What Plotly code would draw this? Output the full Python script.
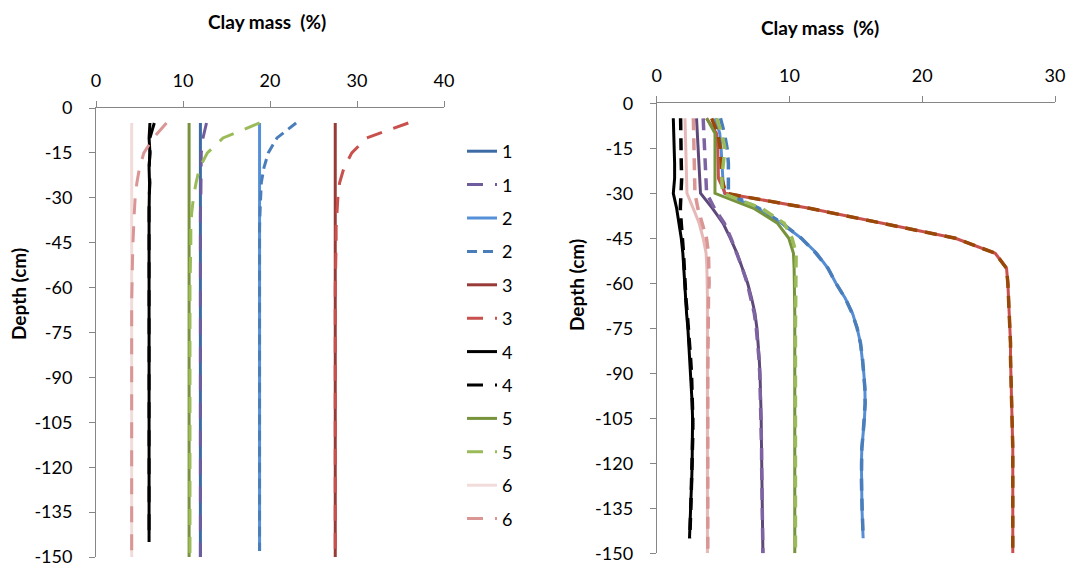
import plotly.graph_objects as go

# ---------------- data ----------------
DEPTH = [-5, -10, -15, -20, -25, -30, -35, -40, -45, -50, -55, -60, -65, -70, -75,
         -80, -85, -90, -95, -100, -105, -110, -115, -120, -125, -130, -135, -140, -145, -150]
DEPTH_145 = DEPTH[:-1]
DEPTH_148 = DEPTH[:-1] + [-148]

# Left chart
L1_solid = [12.0, 12.0, 12.0, 12.0, 12.0, 12.0, 12.0, 12.0, 12.0, 12.0, 12.0, 12.0, 12.0, 12.0, 12.0,
            12.0, 12.0, 12.0, 12.0, 12.0, 12.0, 12.0, 12.0, 12.0, 12.0, 12.0, 12.0, 12.0, 12.0, 12.0]
L1_dash = [12.7, 12.3, 12.1, 12.1, 12.05, 12.05, 12.0, 12.0, 12.0, 12.0, 12.0, 12.0, 12.0, 12.0, 12.0,
           12.0, 12.0, 12.0, 12.0, 12.0, 12.0, 12.0, 12.0, 12.0, 12.0, 12.0, 12.0, 12.0, 12.0, 12.0]
L2_solid = [18.8, 18.8, 18.8, 18.8, 18.8, 18.8, 18.8, 18.8, 18.8, 18.8, 18.8, 18.8, 18.8, 18.8, 18.8,
            18.8, 18.8, 18.8, 18.8, 18.8, 18.8, 18.8, 18.8, 18.8, 18.8, 18.8, 18.8, 18.8, 18.8, 18.8]
L2_dash = [23.0, 20.8, 19.8, 19.3, 19.0, 18.9, 18.85, 18.8, 18.8, 18.8, 18.8, 18.8, 18.8, 18.8, 18.8,
           18.8, 18.8, 18.8, 18.8, 18.8, 18.8, 18.8, 18.8, 18.8, 18.8, 18.8, 18.8, 18.8, 18.8, 18.8]
L3_solid = [27.5, 27.5, 27.5, 27.5, 27.5, 27.5, 27.5, 27.5, 27.5, 27.5, 27.5, 27.5, 27.5, 27.5, 27.5,
            27.5, 27.5, 27.5, 27.5, 27.5, 27.5, 27.5, 27.5, 27.5, 27.5, 27.5, 27.5, 27.5, 27.5, 27.5]
L3_dash = [35.9, 31.1, 29.4, 28.5, 28.0, 27.8, 27.7, 27.6, 27.6, 27.55, 27.5, 27.5, 27.5, 27.5, 27.5,
           27.5, 27.5, 27.5, 27.5, 27.5, 27.5, 27.5, 27.5, 27.5, 27.5, 27.5, 27.5, 27.5, 27.5, 27.5]
L4_solid = [6.2, 6.1, 6.2, 6.1, 6.15, 6.1, 6.1, 6.1, 6.1, 6.1, 6.1, 6.1, 6.1, 6.1, 6.1,
            6.1, 6.1, 6.1, 6.1, 6.1, 6.1, 6.1, 6.1, 6.1, 6.1, 6.1, 6.1, 6.1, 6.1]
L4_dash = [6.7, 6.2, 6.2, 6.1, 6.2, 6.1, 6.1, 6.1, 6.1, 6.1, 6.1, 6.1, 6.1, 6.1, 6.1,
           6.1, 6.1, 6.1, 6.1, 6.1, 6.1, 6.1, 6.1, 6.1, 6.1, 6.1, 6.1, 6.1, 6.1]
L5_solid = [10.7, 10.7, 10.7, 10.7, 10.7, 10.7, 10.7, 10.7, 10.7, 10.7, 10.7, 10.7, 10.7, 10.7, 10.7,
            10.7, 10.7, 10.7, 10.7, 10.7, 10.7, 10.7, 10.7, 10.7, 10.7, 10.7, 10.7, 10.7, 10.7, 10.7]
L5_dash = [18.8, 14.6, 12.8, 11.9, 11.5, 11.2, 11.0, 10.9, 10.9, 10.85, 10.8, 10.8, 10.8, 10.8, 10.8,
           10.8, 10.8, 10.8, 10.8, 10.8, 10.8, 10.8, 10.8, 10.8, 10.8, 10.8, 10.8, 10.8, 10.8, 10.8]
L6_solid = [4.1, 4.1, 4.1, 4.1, 4.1, 4.1, 4.1, 4.1, 4.1, 4.1, 4.1, 4.1, 4.1, 4.1, 4.1,
            4.1, 4.1, 4.1, 4.1, 4.1, 4.1, 4.1, 4.1, 4.1, 4.1, 4.1, 4.1, 4.1, 4.1, 4.1]
L6_dash = [8.1, 6.6, 5.5, 5.0, 4.7, 4.5, 4.4, 4.3, 4.25, 4.2, 4.15, 4.1, 4.1, 4.1, 4.1,
           4.1, 4.1, 4.1, 4.1, 4.1, 4.1, 4.1, 4.1, 4.1, 4.1, 4.1, 4.1, 4.1, 4.1, 4.1]

# Right chart
R1_solid = [3.0, 3.05, 3.1, 3.15, 3.2, 3.3, 4.2, 5.0, 5.55, 6.05, 6.45, 6.85, 7.15, 7.4, 7.55,
            7.65, 7.72, 7.78, 7.82, 7.85, 7.87, 7.88, 7.9, 7.9, 7.92, 7.93, 7.95, 7.97, 7.98, 8.0]
R1_dash = [3.5, 3.55, 3.6, 3.65, 3.7, 3.76, 4.35, 5.1, 5.6, 6.05, 6.45, 6.82, 7.1, 7.35, 7.5,
           7.62, 7.7, 7.76, 7.8, 7.84, 7.86, 7.88, 7.9, 7.9, 7.92, 7.94, 7.96, 7.97, 7.98, 8.0]
R2_solid = [4.4, 4.75, 4.85, 4.9, 4.98, 5.1, 7.6, 9.4, 10.9, 12.05, 12.9, 13.5, 14.2, 14.75, 15.1,
            15.35, 15.5, 15.6, 15.68, 15.7, 15.65, 15.55, 15.45, 15.42, 15.42, 15.44, 15.46, 15.5, 15.55]
R2_dash = [4.8, 5.1, 5.3, 5.4, 5.4, 5.4, 7.7, 9.45, 10.9, 12.0, 12.9, 13.5, 14.2, 14.72, 15.1,
           15.35, 15.5, 15.62, 15.68, 15.7, 15.65, 15.55, 15.45, 15.42, 15.42, 15.44, 15.46, 15.5, 15.55]
R3_solid = [3.76, 4.5, 4.6, 4.62, 4.65, 5.16, 11.5, 17.0, 22.5, 25.5, 26.35, 26.45, 26.5, 26.6, 26.62,
            26.65, 26.65, 26.68, 26.7, 26.75, 26.8, 26.8, 26.82, 26.82, 26.82, 26.82, 26.82, 26.82, 26.82, 26.82]
R3_dash = [4.14, 4.6, 4.8, 4.85, 4.9, 5.2, 11.5, 17.0, 22.5, 25.5, 26.35, 26.45, 26.5, 26.6, 26.62,
           26.65, 26.65, 26.68, 26.7, 26.75, 26.8, 26.8, 26.82, 26.82, 26.82, 26.82, 26.82, 26.82, 26.82, 26.82]
R4_solid = [1.25, 1.3, 1.35, 1.35, 1.35, 1.25, 1.5, 1.7, 1.85, 1.97, 2.03, 2.08, 2.15, 2.25, 2.35,
            2.42, 2.5, 2.56, 2.62, 2.67, 2.7, 2.7, 2.69, 2.67, 2.64, 2.6, 2.56, 2.52, 2.47]
R4_dash = [1.8, 1.8, 1.82, 1.85, 1.88, 1.85, 1.78, 1.85, 1.95, 2.02, 2.08, 2.13, 2.2, 2.3, 2.4,
           2.47, 2.55, 2.62, 2.67, 2.7, 2.72, 2.72, 2.7, 2.68, 2.65, 2.61, 2.57, 2.53, 2.49]
R5_solid = [3.76, 4.39, 4.39, 4.39, 4.39, 4.39, 7.3, 9.1, 9.95, 10.3, 10.35, 10.38, 10.4, 10.4, 10.4,
            10.4, 10.4, 10.4, 10.4, 10.4, 10.4, 10.4, 10.4, 10.4, 10.4, 10.4, 10.4, 10.4, 10.4, 10.4]
R5_dash = [4.52, 4.9, 5.14, 5.0, 4.9, 4.96, 7.9, 9.6, 10.2, 10.5, 10.48, 10.45, 10.45, 10.45, 10.45,
           10.45, 10.45, 10.45, 10.45, 10.45, 10.45, 10.45, 10.45, 10.45, 10.45, 10.45, 10.45, 10.45, 10.45, 10.45]
R6_solid = [2.13, 2.15, 2.18, 2.2, 2.25, 2.28, 2.75, 3.2, 3.5, 3.72, 3.78, 3.82, 3.82, 3.82, 3.82,
            3.82, 3.82, 3.82, 3.82, 3.82, 3.82, 3.82, 3.82, 3.82, 3.82, 3.82, 3.82, 3.82, 3.82, 3.82]
R6_dash = [2.76, 2.78, 2.8, 2.82, 2.85, 2.88, 3.1, 3.45, 3.75, 3.9, 3.95, 3.95, 3.9, 3.88, 3.85,
           3.85, 3.85, 3.85, 3.85, 3.85, 3.85, 3.85, 3.85, 3.85, 3.85, 3.85, 3.85, 3.85, 3.85, 3.85]

X_TICKS_L = [0, 10, 20, 30, 40]
X_TICKS_R = [0, 10, 20, 30]
Y_TICKS = [0, -15, -30, -45, -60, -75, -90, -105, -120, -135, -150]
Y_TICK_LABELS = ["0", "-15", "-30", "-45", "-60", "-75", "-90", "-105", "-120", "-135", "-150"]
X_TITLE = "Clay mass&nbsp;&nbsp;(%)"
Y_TITLE = "Depth (cm)"

LONG = "16px,12px"
SHORT = "10px,6px"

left_series = [
    ("1", L1_solid, DEPTH, "#3D6BA6", "solid"),
    ("1", L1_dash, DEPTH, "#6F5C9E", LONG),
    ("2", L2_solid, DEPTH_148, "#5590D8", "solid"),
    ("2", L2_dash, DEPTH_148, "#4A7EBB", SHORT),
    ("3", L3_solid, DEPTH, "#983A37", "solid"),
    ("3", L3_dash, DEPTH, "#C8504D", LONG),
    ("4", L4_solid, DEPTH_145, "#000000", "solid"),
    ("4", L4_dash, DEPTH_145, "#000000", LONG),
    ("5", L5_solid, DEPTH, "#77933C", "solid"),
    ("5", L5_dash, DEPTH, "#9BBB59", LONG),
    ("6", L6_solid, DEPTH, "#F2DCDB", "solid"),
    ("6", L6_dash, DEPTH, "#D99694", LONG),
]
right_series = [
    ("1", R1_solid, DEPTH, "#5F497A", "solid"),
    ("1", R1_dash, DEPTH, "#7E63A2", "12px,8px"),
    ("2", R2_solid, DEPTH_145, "#558ED5", "solid"),
    ("2", R2_dash, DEPTH_145, "#4A7EBB", "12px,8px"),
    ("3", R3_solid, DEPTH, "#C8504D", "solid"),
    ("3", R3_dash, DEPTH, "#984807", "12px,8px"),
    ("4", R4_solid, DEPTH_145, "#000000", "solid"),
    ("4", R4_dash, DEPTH_145, "#000000", "12px,8px"),
    ("5", R5_solid, DEPTH, "#77933C", "solid"),
    ("5", R5_dash, DEPTH, "#9BBB59", "12px,8px"),
    ("6", R6_solid, DEPTH, "#E6B9B8", "solid"),
    ("6", R6_dash, DEPTH, "#D99694", "12px,8px"),
]

FONT = "Lato, 'Open Sans', sans-serif"
W, H = 1071, 576

fig = go.Figure()
for i, (name, xs, ys, col, dash) in enumerate(left_series):
    fig.add_trace(go.Scatter(x=xs, y=ys, mode="lines", name=name, legendgroup=f"g{i}",
                             line=dict(color=col, width=3, dash=dash),
                             xaxis="x", yaxis="y", showlegend=True))
for i, (name, xs, ys, col, dash) in enumerate(right_series):
    fig.add_trace(go.Scatter(x=xs, y=ys, mode="lines", name=name, legendgroup=f"r{i}",
                             line=dict(color=col, width=3 if dash == "solid" else 3.5, dash=dash),
                             xaxis="x2", yaxis="y2", showlegend=False))

axis_common = dict(showgrid=False, zeroline=False, showline=True, linecolor="#868686", linewidth=1,
                   ticks="outside", tickcolor="#868686", ticklen=6, tickwidth=1, automargin=False,
                   tickfont=dict(family=FONT, size=18, color="#000000"))

title_font = dict(family=FONT, size=19, color="#000000")

fig.update_layout(
    width=W, height=H,
    margin=dict(l=0, r=0, t=0, b=0, autoexpand=False),
    paper_bgcolor="white", plot_bgcolor="white",
    font=dict(family=FONT, size=16, color="#000000"),
    xaxis=dict(domain=[96 / W, 444 / W], range=[0, 40], tickvals=X_TICKS_L, side="top",
               anchor="y", ticklabelstandoff=7, **axis_common),
    yaxis=dict(domain=[1 - 557 / H, 1 - 108 / H], range=[-150, 0], tickvals=Y_TICKS,
               ticktext=Y_TICK_LABELS, anchor="x", ticklabelstandoff=13, **axis_common),
    xaxis2=dict(domain=[656.7 / W, 1055 / W], range=[0, 30], tickvals=X_TICKS_R, side="top",
                anchor="y2", ticklabelstandoff=7, **axis_common),
    yaxis2=dict(domain=[1 - 553.3 / H, 1 - 103.3 / H], range=[-150, 0], tickvals=Y_TICKS,
                ticktext=Y_TICK_LABELS, anchor="x2", ticklabelstandoff=13, **axis_common),
    legend=dict(x=462 / W, y=1 - 133 / H, xanchor="left", yanchor="top",
                font=dict(family=FONT, size=18, color="#000000"),
                tracegroupgap=7, bgcolor="rgba(0,0,0,0)", itemwidth=30),
    annotations=[
        dict(text=f"<b>{X_TITLE}</b>", x=267 / W, y=1 - 22 / H, xref="paper", yref="paper",
             xanchor="center", yanchor="middle", showarrow=False, font=title_font),
        dict(text=f"<b>{X_TITLE}</b>", x=820 / W, y=1 - 27 / H, xref="paper", yref="paper",
             xanchor="center", yanchor="middle", showarrow=False, font=title_font),
        dict(text=f"<b>{Y_TITLE}</b>", x=18 / W, y=1 - 294 / H, xref="paper", yref="paper",
             xanchor="center", yanchor="middle", showarrow=False, textangle=-90, font=title_font),
        dict(text=f"<b>{Y_TITLE}</b>", x=576 / W, y=1 - 285 / H, xref="paper", yref="paper",
             xanchor="center", yanchor="middle", showarrow=False, textangle=-90, font=title_font),
    ],
)

fig.write_html("out.html")
